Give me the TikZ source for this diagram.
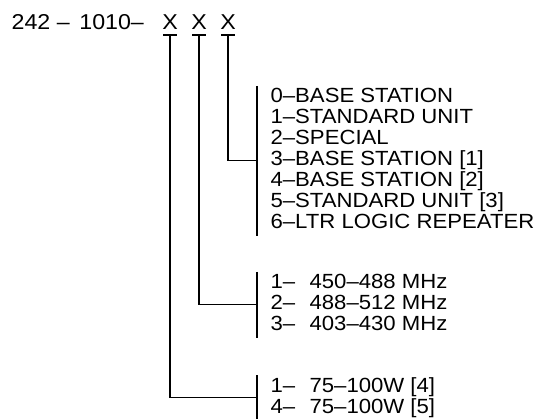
\documentclass[tikz,border=0pt]{standalone}
\usepackage{fontspec}
\setmainfont[FakeStretch=1.08]{Liberation Sans}

\begin{document}
\begin{tikzpicture}[x=1pt, y=-1pt, line width=1.2pt,
  head/.style={anchor=base, inner sep=0pt, font=\fontsize{21.5}{24}\selectfont},
  lst/.style={anchor=north west, align=left, inner xsep=13pt, inner ysep=2pt,
    text depth=4pt, font=\fontsize{20.5}{21}\selectfont}]
  \useasboundingbox (0,0) rectangle (540,419);
  \node[head, anchor=base west] (P) at (11,30) {242 –\hspace{0.45em}1010–};
  \node[head] (A) at (170,30) {X};
  \node[head] (B) at (199,30) {X};
  \node[head] (C) at (228,30) {X};
  \node[lst] (U) at (257,86) {0–BASE STATION\\1–STANDARD UNIT\\2–SPECIAL\\3–BASE STATION [1]\\4–BASE STATION [2]\\5–STANDARD UNIT [3]\\6–LTR LOGIC REPEATER};
  \node[lst] (F) at (257,272) {1–\hspace{0.7em}450–488 MHz\\2–\hspace{0.7em}488–512 MHz\\3–\hspace{0.7em}403–430 MHz};
  \node[lst] (W) at (257,375) {1–\hspace{0.7em}75–100W [4]\\4–\hspace{0.7em}75–100W [5]};
  \draw (U.north west) -- (U.south west);
  \draw (F.north west) -- (F.south west);
  \draw (W.north west) -- (W.south west);
  \foreach \n in {A,B,C}
    \draw ([yshift=-5pt]\n.base) ++(-7,0) -- ++(14,0);
  \draw ([yshift=-5pt]C.base) |- (U.west);
  \draw ([yshift=-5pt]B.base) |- (F.west);
  \draw ([yshift=-5pt]A.base) |- (W.west);
\end{tikzpicture}
\end{document}
